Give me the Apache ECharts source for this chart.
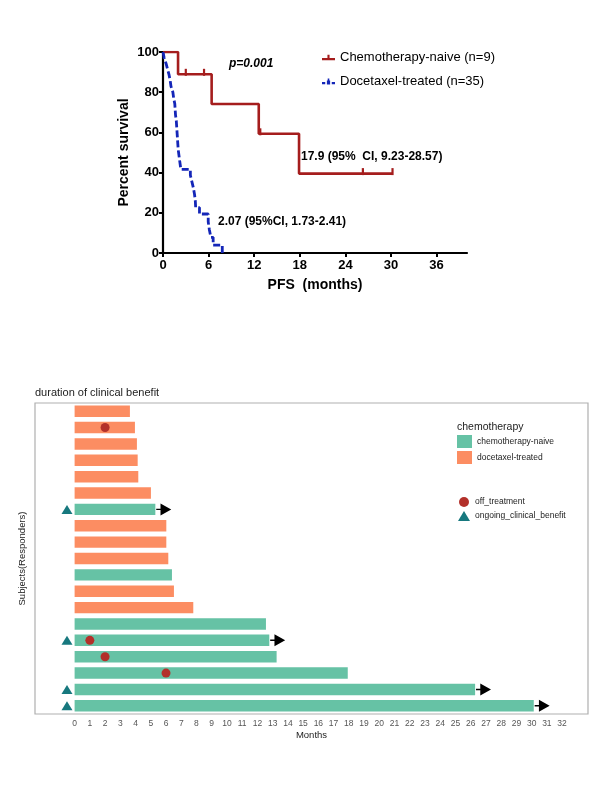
<!DOCTYPE html>
<html>
<head>
<meta charset="utf-8">
<script src="https://cdn.jsdelivr.net/npm/echarts@6/dist/echarts.min.js"></script>
<style>html,body{margin:0;padding:0;background:#fff}#c{width:610px;height:793px}</style>
</head>
<body>
<div id="c"></div>
<script>
// ---- Kaplan-Meier (top) ----
const kmXTicks = [0, 6, 12, 18, 24, 30, 36];
const naiveTimes = [0, 1.98, 6.4, 12.6, 17.9, 30.2];
const naiveSurv  = [100, 88.9, 74.1, 59.3, 39.5, 39.5];
const naiveCensorTimes = [3.0, 5.4, 12.8, 26.3, 30.2];
const naiveCensorSurv  = [88.9, 88.9, 59.3, 39.5, 39.5];
const doceTimes = [0, 0.15, 0.4, 0.6, 0.8, 0.95, 1.05, 1.3, 1.4, 1.55, 1.6, 1.65, 1.75, 1.8, 1.85, 1.9, 1.95, 2.0, 2.1, 2.2, 2.35, 3.6, 3.8, 4.0, 4.15, 4.25, 4.3, 4.8, 5.95, 6.1, 6.3, 6.6, 7.8];
const doceSurv  = [100, 97.1, 94.3, 91.4, 88.6, 85.7, 82.9, 80.0, 77.1, 74.3, 71.4, 68.6, 65.7, 62.9, 60.0, 57.1, 54.3, 51.4, 48.6, 45.7, 41.6, 38.7, 35.5, 32.3, 29.1, 25.9, 22.6, 19.4, 15.5, 11.6, 7.8, 3.9, 0];
const kmNames = ['Chemotherapy-naive (n=9)', 'Docetaxel-treated (n=35)'];

// ---- Swimmer plot (bottom) ----
const subjects  = ['P1','P2','P3','P4','P5','P6','P7','P8','P9','P10','P11','P12','P13','P14','P15','P16','P17','P18','P19'];
const groups    = ['d','d','d','d','d','d','n','d','d','d','n','d','d','n','n','n','n','n','n'];
const durations = [3.63, 3.96, 4.09, 4.14, 4.18, 5.01, 5.3, 6.02, 6.02, 6.15, 6.39, 6.52, 7.79, 12.56, 12.78, 13.26, 17.93, 26.29, 30.14];
const offTreatment = [null, 2, null, null, null, null, null, null, null, null, null, null, null, null, 1, 2, 6, null, null];
const ongoing   = [false,false,false,false,false,false,true,false,false,false,false,false,false,false,true,false,false,true,true];
const monthTicks = [0,1,2,3,4,5,6,7,8,9,10,11,12,13,14,15,16,17,18,19,20,21,22,23,24,25,26,27,28,29,30,31,32];
const groupNames = {n: 'chemotherapy-naive', d: 'docetaxel-treated'};

const F = '"Liberation Sans", Arial, sans-serif';
const zip = (a, b) => a.map((v, i) => [v, b[i]]);

const naiveBars = durations.map((v, i) => groups[i] === 'n' ? v : '-');
const doceBars  = durations.map((v, i) => groups[i] === 'd' ? v : '-');
const offPts = offTreatment.map((v, i) => v == null ? null : [v, subjects[i]]).filter(Boolean);
const ongoingPts = ongoing.map((o, i) => o ? [-0.5, subjects[i]] : null).filter(Boolean);
const arrowPts = ongoing.map((o, i) => o ? [durations[i] + 0.55, subjects[i]] : null).filter(Boolean);

const chart = echarts.init(document.getElementById('c'), null, {renderer: 'canvas'});
const axisBlack = {lineStyle: {color: '#000', width: 2.2}};
chart.setOption({
  animation: false,
  textStyle: {fontFamily: F},
  grid: [
    {left: 163, top: 52, width: 304, height: 201},
    {left: 35, top: 403, width: 553, height: 311, show: true, borderColor: '#AFAFAF', borderWidth: 1.2, backgroundColor: '#fff'}
  ],
  xAxis: [
    {gridIndex: 0, type: 'value', min: 0, max: 40, splitLine: {show: false},
     axisLine: axisBlack,
     axisTick: {customValues: kmXTicks, length: 4, lineStyle: {color: '#000', width: 2}},
     axisLabel: {customValues: kmXTicks, color: '#000', fontSize: 13, fontWeight: 'bold', margin: 6, fontFamily: F},
     name: 'PFS  (months)', nameLocation: 'middle', nameGap: 25,
     nameTextStyle: {color: '#000', fontSize: 14, fontWeight: 'bold', fontFamily: F}},
    {gridIndex: 1, type: 'value', min: -2.6, max: 33.7, splitLine: {show: false},
     axisLine: {show: false},
     axisTick: {customValues: monthTicks, length: 3, lineStyle: {color: '#777', width: 1}},
     axisLabel: {customValues: monthTicks, color: '#555', fontSize: 8.5, margin: 5, fontFamily: F},
     name: 'Months', nameLocation: 'middle', nameGap: 16,
     nameTextStyle: {color: '#222', fontSize: 9.5, fontFamily: F}}
  ],
  yAxis: [
    {gridIndex: 0, type: 'value', min: 0, max: 100, interval: 20, splitLine: {show: false},
     axisLine: axisBlack,
     axisTick: {length: 4, lineStyle: {color: '#000', width: 2}},
     axisLabel: {color: '#000', fontSize: 13, fontWeight: 'bold', margin: 4, fontFamily: F},
     name: 'Percent survival', nameLocation: 'middle', nameGap: 32,
     nameTextStyle: {color: '#000', fontSize: 14, fontWeight: 'bold', fontFamily: F}},
    {gridIndex: 1, type: 'category', data: subjects, inverse: true,
     axisLine: {show: false}, axisTick: {show: false}, axisLabel: {show: false}, splitLine: {show: false},
     name: 'Subjects(Responders)', nameLocation: 'middle', nameGap: 8,
     nameTextStyle: {color: '#222', fontSize: 9.5, fontFamily: F}}
  ],
  legend: [
    {data: [
       {name: kmNames[0], icon: 'path://M0,6h16v2.6h-16z M6.7,2h2.6v6h-2.6z'},
       {name: kmNames[1], icon: 'path://M0,6h4v2.6h-4z M6,4h4v5h-4z M12,6h4v2.6h-4z M7,1.5h2v6h-2z'}],
     orient: 'vertical', left: 322, top: 51, padding: 0, itemWidth: 13, itemHeight: 10, itemGap: 11, itemTextGap: 6,
     selectedMode: false, textStyle: {color: '#000', fontSize: 13, fontFamily: F}},
    {data: [groupNames.n, groupNames.d], orient: 'vertical', left: 457, top: 435, padding: 0, icon: 'rect',
     itemWidth: 15, itemHeight: 13, itemGap: 3, itemTextGap: 4, selectedMode: false,
     textStyle: {color: '#222', fontSize: 8.5, fontFamily: F}},
    {data: ['off_treatment', 'ongoing_clinical_benefit'], orient: 'vertical', left: 458, top: 497, padding: 0,
     itemWidth: 12, itemHeight: 10, itemGap: 4, itemTextGap: 5, selectedMode: false,
     textStyle: {color: '#222', fontSize: 8.5, fontFamily: F}}
  ],
  graphic: [
    {type: 'text', left: 229, top: 58, style: {text: 'p=0.001', fontSize: 12, fontWeight: 'bold', fontStyle: 'italic', fill: '#000', fontFamily: F}},
    {type: 'text', left: 301, top: 151, style: {text: '17.9 (95%  CI, 9.23-28.57)', fontSize: 12, fontWeight: 'bold', fill: '#000', fontFamily: F}},
    {type: 'text', left: 218, top: 216, style: {text: '2.07 (95%CI, 1.73-2.41)', fontSize: 12, fontWeight: 'bold', fill: '#000', fontFamily: F}},
    {type: 'text', left: 35, top: 387, style: {text: 'duration of clinical benefit', fontSize: 11, fill: '#222', fontFamily: F}},
    {type: 'text', left: 457, top: 422, style: {text: 'chemotherapy', fontSize: 10.5, fill: '#222', fontFamily: F}}
  ],
  series: [
    {name: kmNames[0], type: 'line', step: 'end', xAxisIndex: 0, yAxisIndex: 0, data: zip(naiveTimes, naiveSurv),
     symbol: 'none', color: '#A51D1D', lineStyle: {color: '#A51D1D', width: 2.6}, silent: true},
    {name: 'naive-censor', type: 'scatter', xAxisIndex: 0, yAxisIndex: 0, data: zip(naiveCensorTimes, naiveCensorSurv),
     symbol: 'rect', symbolSize: [2.2, 7], symbolOffset: [0, -2], itemStyle: {color: '#A51D1D', opacity: 1}, silent: true},
    {name: kmNames[1], type: 'line', step: 'end', xAxisIndex: 0, yAxisIndex: 0, data: zip(doceTimes, doceSurv),
     symbol: 'none', color: '#1426B8', lineStyle: {color: '#1426B8', width: 2.8, type: [7, 3]}, silent: true},

    {name: groupNames.n, type: 'bar', stack: 'dur', xAxisIndex: 1, yAxisIndex: 1, data: naiveBars, barWidth: '70%',
     itemStyle: {color: '#66C2A5'}, silent: true},
    {name: groupNames.d, type: 'bar', stack: 'dur', xAxisIndex: 1, yAxisIndex: 1, data: doceBars, barWidth: '70%',
     itemStyle: {color: '#FC8D62'}, silent: true},
    {name: 'arrows', type: 'scatter', xAxisIndex: 1, yAxisIndex: 1, data: arrowPts,
     symbol: 'path://M0,4.4h5v1.2h-5z M4,0L14,5L4,10Z', symbolSize: [15, 12], itemStyle: {color: '#000', opacity: 1}, silent: true},
    {name: 'off_treatment', type: 'scatter', xAxisIndex: 1, yAxisIndex: 1, data: offPts,
     symbol: 'circle', symbolSize: 9, itemStyle: {color: '#B3302A', opacity: 1}, silent: true},
    {name: 'ongoing_clinical_benefit', type: 'scatter', xAxisIndex: 1, yAxisIndex: 1, data: ongoingPts,
     symbol: 'triangle', symbolSize: [11, 9], itemStyle: {color: '#17787E', opacity: 1}, silent: true}
  ]
});
</script>
</body>
</html>
